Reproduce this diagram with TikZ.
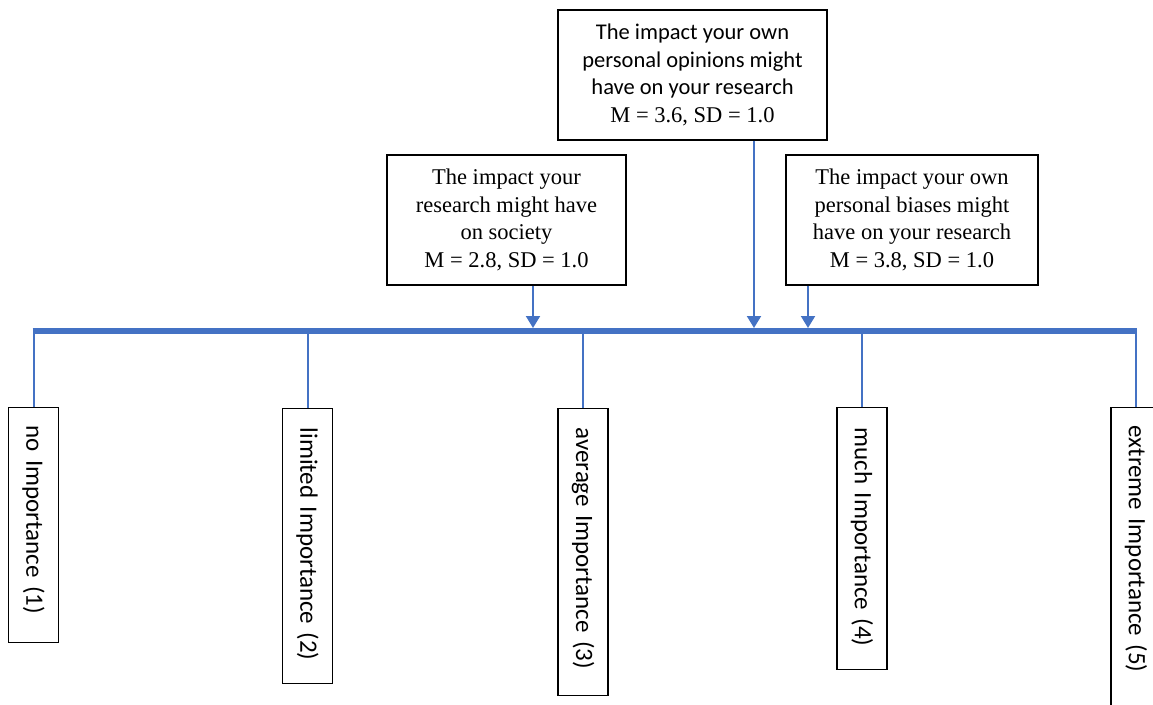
\documentclass[tikz,border=0pt]{standalone}
\usepackage{fontspec}
\setmainfont{Liberation Serif}
\newfontfamily\calfont{Carlito}
\usetikzlibrary{arrows.meta}
\definecolor{barblue}{HTML}{4472C4}

\begin{document}
\begin{tikzpicture}[x=1pt,y=-1pt,
  topbox/.style={draw=black, line width=1.4pt, align=center, inner sep=0pt,
    font=\fontsize{22.5}{27.5}\selectfont},
  scalebox/.style={draw=black, line width=1.4pt, rotate=-90, anchor=west,
    minimum height=50pt, inner xsep=0pt, align=left,
    font=\calfont\fontsize{25}{30}\selectfont},
  bar/.style={draw=barblue, line width=5.5pt},
  drop/.style={draw=barblue, line width=2pt},
  arr/.style={draw=barblue, line width=2pt, -{Triangle[width=14pt,length=12pt]}}]

\clip (0,0) rectangle (1153,704);

% statements rated on the scale
\node[topbox, minimum width=239pt, minimum height=130pt] (soc) at (506.5,220)
  {The impact your\\research might have\\on society\\M = 2.8, SD = 1.0};
\node[topbox, minimum width=269pt, minimum height=130pt] (opi) at (692.5,75)
  {{\calfont The impact your own}\\{\calfont personal opinions might}\\{\calfont have on your research}\\M = 3.6, SD = 1.0};
\node[topbox, minimum width=252pt, minimum height=130pt] (bia) at (912,220)
  {The impact your own\\personal biases might\\have on your research\\M = 3.8, SD = 1.0};

% scale points
\node[scalebox, text width=235pt] (s1) at (33.5,407)
  {\noindent\hspace*{18pt}no Importance (1)};
\node[scalebox, text width=275pt] (s2) at (307.5,408)
  {\noindent\hspace*{19pt}limited Importance (2)};
\node[scalebox, text width=287pt] (s3) at (583,408)
  {\noindent\hspace*{19pt}average Importance (3)};
\node[scalebox, text width=262pt] (s4) at (862,407)
  {\noindent\hspace*{20pt}much Importance (4)};
\node[scalebox, text width=330pt] (s5) at (1136,407)
  {\noindent\hspace*{18pt}extreme Importance (5)};

% the scale bar and its ticks
\coordinate (L) at (32.5,331);
\coordinate (R) at (1137,331);
\foreach \s in {s1,s2,s3,s4,s5}
  \draw[drop] (\s.west |- L) -- (\s.west);
\draw[bar] (L) -- (R);

% where each statement falls on the scale
\coordinate (tA) at (533,328);
\coordinate (tB) at (754,328);
\coordinate (tC) at (808,328);
\draw[arr] (soc.south -| tA) -- (tA);
\draw[arr] (opi.south -| tB) -- (tB);
\draw[arr] (bia.south -| tC) -- (tC);
\end{tikzpicture}
\end{document}
